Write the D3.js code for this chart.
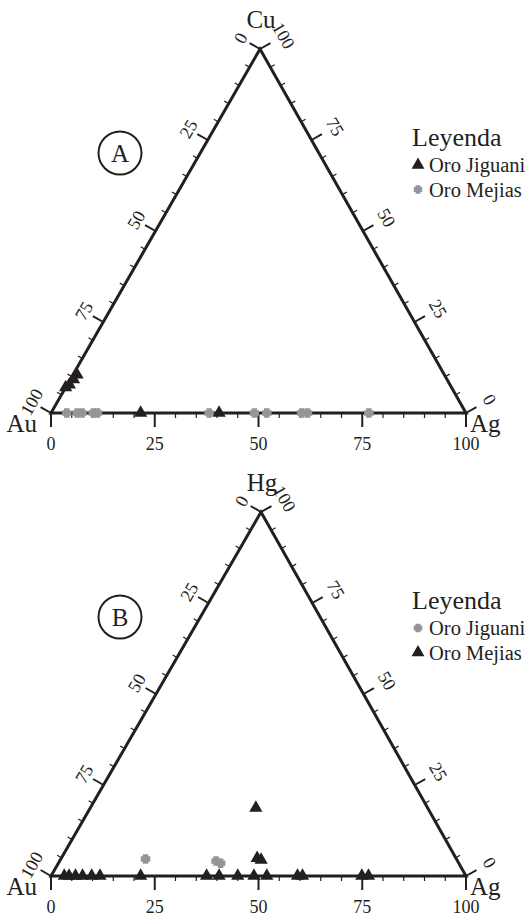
<!DOCTYPE html>
<html>
<head>
<meta charset="utf-8">
<script src="https://cdn.jsdelivr.net/npm/d3@7"></script>
<style>
  body { margin: 0; background: #fff; }
  svg text { font-family: "Liberation Serif", "Times New Roman", serif; fill: #231f20; }
</style>
</head>
<body>
<svg id="chart" width="532" height="916"></svg>
<script>
// ---------------------------------------------------------------------------
// datos (composiciones en %)
// ---------------------------------------------------------------------------
const tickValues = [0, 25, 50, 75, 100];
const legendTitle = "Leyenda";
const seriesNames = ["Oro Jiguani", "Oro Mejias"];

// Panel A: [Au, Ag, Cu]
const cornersA = ["Au", "Ag", "Cu"];
const jiguaniA = [
  [93, 0, 7], [91.7, 0.5, 7.8], [90, 0.8, 9.2], [88.5, 1, 10.5],
  [78.4, 21.6, 0], [59.5, 40.5, 0]
];
const mejiasA = [
  [96.2, 3.8, 0], [93.7, 6.3, 0], [92.5, 7.5, 0], [89.8, 10.2, 0],
  [88.8, 11.2, 0], [61.9, 38.1, 0], [51, 49, 0], [48, 52, 0],
  [39.6, 60.4, 0], [38.2, 61.8, 0], [23.4, 76.6, 0]
];

// Panel B: [Au, Ag, Hg]
const cornersB = ["Au", "Ag", "Hg"];
const jiguaniB = [
  [74.9, 20.4, 4.7], [58.2, 37.7, 4.1], [57.4, 39.1, 3.5]
];
const mejiasB = [
  [96.8, 3.2, 0], [95.65, 4.35, 0], [94.1, 5.9, 0], [92.4, 7.6, 0],
  [90.2, 9.8, 0], [88.2, 11.8, 0], [78.4, 21.6, 0], [62.5, 37.5, 0],
  [59.5, 40.5, 0], [55, 45, 0], [51.1, 48.9, 0], [48, 52, 0],
  [40.6, 59.4, 0], [39.4, 60.6, 0], [25.1, 74.9, 0], [23.5, 76.5, 0],
  [41.4, 39.9, 18.7], [47.9, 47.2, 4.9], [47.2, 48.4, 4.4]
];

// ---------------------------------------------------------------------------
const ink = "#231f20";
const grey = "#939598";

// cruz gruesa para las muestras en gris
const fatCross = {
  draw(ctx, size) {
    const r = Math.sqrt(size) / 2, w = r * 0.58;
    ctx.moveTo(-w, -r); ctx.lineTo(w, -r); ctx.lineTo(w, -w); ctx.lineTo(r, -w);
    ctx.lineTo(r, w); ctx.lineTo(w, w); ctx.lineTo(w, r); ctx.lineTo(-w, r);
    ctx.lineTo(-w, w); ctx.lineTo(-r, w); ctx.lineTo(-r, -w); ctx.lineTo(-w, -w);
    ctx.closePath();
  }
};

const markers = {
  tri: { type: d3.symbolTriangle, size: 76, fill: ink },
  cross: { type: fatCross, size: 90, fill: grey }
};

const svg = d3.select("#chart");

function ternary(opt) {
  const g = svg.append("g");
  const [A, B, C] = opt.pts; // Au, Ag, vertice superior

  const sx = d3.scaleLinear().domain([0, 100]).range([A[0], B[0]]);
  const sy = d3.scaleLinear().domain([0, 100]).range([A[1], C[1]]);
  const skew = (C[0] - A[0]) / (B[0] - A[0]);

  // composicion -> pixel
  function proj(d) {
    const s = d[0] + d[1] + d[2];
    const b = d[1] / s * 100, c = d[2] / s * 100;
    return [sx(b + c * skew), sy(c)];
  }

  // bordes
  g.append("path")
    .attr("d", "M" + [A, B, C].map(p => p.join(",")).join("L") + "Z")
    .attr("fill", "none").attr("stroke", ink)
    .attr("stroke-width", 3).attr("stroke-linejoin", "miter");

  function unit(v) { const l = Math.hypot(v[0], v[1]); return [v[0] / l, v[1] / l]; }
  const nLeft = unit([A[1] - C[1], C[0] - A[0]]);   // normal hacia fuera
  const nRight = unit([C[1] - B[1], B[0] - C[0]]);

  const sides = [
    { comp: v => [100 - v, v, 0], n: [0, 1], rot: 0, off: 37 },       // base (Ag)
    { comp: v => [v, 0, 100 - v], n: [-Math.abs(nLeft[0]), -Math.abs(nLeft[1])], rot: -60, off: 22 },
    { comp: v => [0, 100 - v, v], n: [Math.abs(nRight[0]), -Math.abs(nRight[1])], rot: 60, off: 27 }
  ];

  const minor = d3.range(0, 101, 5);
  sides.forEach(function(s, i) {
    g.selectAll(null).data(minor).enter().append("line")
      .each(function(v) {
        const p = proj(s.comp(v));
        const major = v % 25 === 0;
        const len = major ? (i === 0 ? 14 : 12) : 5;
        d3.select(this)
          .attr("x1", p[0]).attr("y1", p[1])
          .attr("x2", p[0] + s.n[0] * len).attr("y2", p[1] + s.n[1] * len)
          .attr("stroke", ink).attr("stroke-width", major ? 2 : 1.2);
      });

    g.selectAll(null).data(tickValues).enter().append("text")
      .text(d => d)
      .style("font-size", "18px")
      .attr("text-anchor", "middle")
      .attr("transform", function(v) {
        const p = proj(s.comp(v));
        if (i === 0) return "translate(" + p[0] + "," + (p[1] + s.off) + ")";
        const q = [p[0] + s.n[0] * s.off, p[1] + s.n[1] * s.off];
        return "translate(" + q[0] + "," + q[1] + ") rotate(" + s.rot + ")";
      })
      .attr("dy", i === 0 ? 0 : "0.33em");
  });

  // vertices
  g.append("text").text(opt.corners[0]).style("font-size", "25px")
    .attr("x", A[0] - 14).attr("y", A[1] + 19).attr("text-anchor", "end");
  g.append("text").text(opt.corners[1]).style("font-size", "25px")
    .attr("x", B[0] + 4).attr("y", B[1] + 19);
  g.append("text").text(opt.corners[2]).style("font-size", "25px")
    .attr("x", C[0] + 1).attr("y", C[1] - 21).attr("text-anchor", "middle");

  // letra del panel
  g.append("circle").attr("cx", opt.badge[0]).attr("cy", opt.badge[1]).attr("r", 21.5)
    .attr("fill", "none").attr("stroke", ink).attr("stroke-width", 2);
  g.append("text").text(opt.letter).style("font-size", "25px")
    .attr("x", opt.badge[0]).attr("y", opt.badge[1] + 8.5).attr("text-anchor", "middle");

  // puntos (primero grises, luego triangulos)
  opt.series.slice().sort((a, b) => (a.m === "cross" ? -1 : 1)).forEach(function(s) {
    const m = markers[s.m];
    g.selectAll(null).data(s.data).enter().append("path")
      .attr("d", d3.symbol().type(m.type).size(m.size))
      .attr("transform", d => "translate(" + proj(d) + ")")
      .attr("fill", m.fill);
  });

  // leyenda
  const L = opt.legend;
  g.append("text").text(legendTitle).style("font-size", "26px")
    .attr("x", L[0]).attr("y", L[1]);
  opt.series.forEach(function(s, k) {
    const m = markers[s.m];
    const y = L[1] + 26 + k * 24.5;
    g.append("path")
      .attr("d", d3.symbol().type(m.type).size(s.m === "cross" ? 70 : 72))
      .attr("transform", "translate(" + (L[0] + 6) + "," + (y - 7) + ")")
      .attr("fill", m.fill);
    g.append("text").text(s.name).style("font-size", "20.5px")
      .attr("x", L[0] + 17).attr("y", y);
  });
}

ternary({
  pts: [[51, 413], [466, 413], [260, 49]],
  corners: cornersA, letter: "A", badge: [120, 153], legend: [412, 146],
  series: [
    { name: seriesNames[0], data: jiguaniA, m: "tri" },
    { name: seriesNames[1], data: mejiasA, m: "cross" }
  ]
});

ternary({
  pts: [[51, 876], [466, 876], [261, 512]],
  corners: cornersB, letter: "B", badge: [120, 617], legend: [412, 609],
  series: [
    { name: seriesNames[0], data: jiguaniB, m: "cross" },
    { name: seriesNames[1], data: mejiasB, m: "tri" }
  ]
});
</script>
</body>
</html>
